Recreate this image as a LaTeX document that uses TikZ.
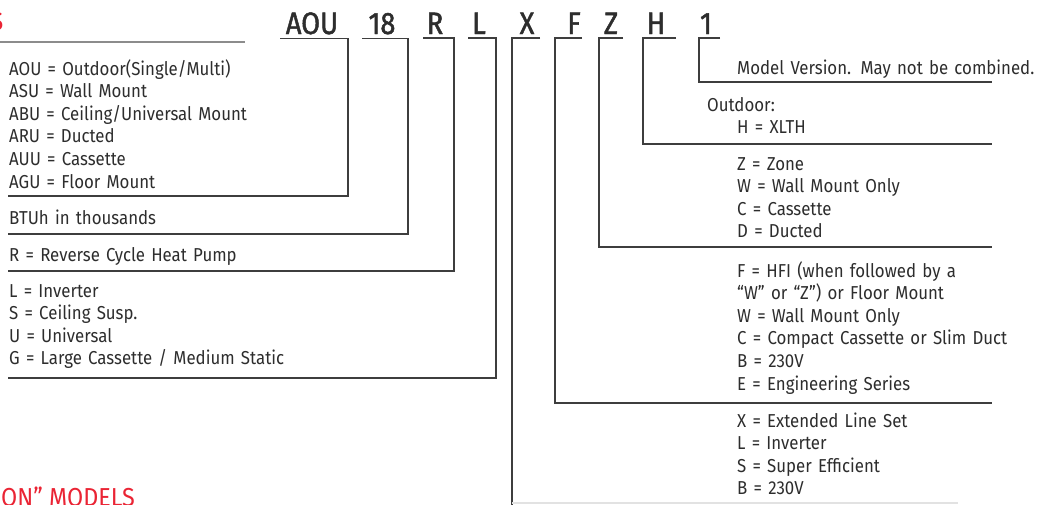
\documentclass[tikz,border=0pt]{standalone}
\usepackage{fontspec}
\setmainfont[FakeStretch=0.9]{Fira Sans}
\newfontfamily\codefont[FakeStretch=0.88, FakeBold=1.5]{Fira Sans}
\definecolor{LineColor}{RGB}{62,62,62}
\definecolor{TextColor}{RGB}{45,45,45}
\definecolor{AccentColor}{RGB}{234,36,52}
\definecolor{RuleColor}{RGB}{140,140,140}
\definecolor{FaintColor}{RGB}{226,226,226}
\usetikzlibrary{calc, positioning}

\begin{document}
\begin{tikzpicture}[x=1pt, y=-1pt,
    code/.style={font=\codefont\fontsize{31}{31}\selectfont, text=TextColor, anchor=base, inner xsep=0pt, inner ysep=4pt},
    desc/.style={font=\fontsize{18.7}{22.6}\selectfont, text=TextColor, anchor=base west, inner sep=0pt, text width=320pt, align=left},
    title/.style={font=\fontsize{26}{26}\selectfont, text=AccentColor, inner sep=0pt},
    bracket/.style={draw=LineColor, line width=1.5pt}]
  \useasboundingbox (0,0) rectangle (1039,504);
  \clip (0,0) rectangle (1039,504);

  % cropped headings
  \node[title, anchor=base east] (toptitle) at (3.5,30) {S};
  \node[title, anchor=base west] (bottitle) at (1,506) {ON” MODELS};
  \draw[RuleColor, line width=1.2pt] (0,42) -- (245,42);

  % model number
  \node[code] (aou) at (312,34) {AOU};
  \node[code] (btu) at (382,34) {18};
  \node[code] (r) at (435,34) {R};
  \node[code] (l) at (479,34) {L};
  \node[code] (x) at (527,34) {X};
  \node[code] (f) at (574,34) {F};
  \node[code] (z) at (611,34) {Z};
  \node[code] (h) at (656,34) {H};
  \node[code] (one) at (706,34) {1};

  % left descriptions
  \node[desc] (aoudesc) at (9,75) {AOU = Outdoor(Single/Multi)\\ASU = Wall Mount\\ABU = Ceiling/Universal Mount\\ARU = Ducted\\AUU = Cassette\\AGU = Floor Mount};
  \node[desc] (btudesc) at (9,224) {BTUh in thousands};
  \node[desc] (rdesc) at (9,261) {R = Reverse Cycle Heat Pump};
  \node[desc] (ldesc) at (9,297) {L = Inverter\\S = Ceiling Susp.\\U = Universal\\G = Large Cassette / Medium Static};

  % right descriptions
  \node[desc] (onedesc) at (737,74) {Model Version. May not be combined.};
  \node[desc] (hdesc) at (707,111) {Outdoor:\\\hspace*{30pt}H = XLTH};
  \node[desc] (zdesc) at (737,170) {Z = Zone\\W = Wall Mount Only\\C = Cassette\\D = Ducted};
  \node[desc] (fdesc) at (737,277) {F = HFI (when followed by a\\“W” or “Z”) or Floor Mount\\W = Wall Mount Only\\C = Compact Cassette or Slim Duct\\B = 230V\\E = Engineering Series};
  \node[desc] (xdesc) at (737,427) {X = Extended Line Set\\L = Inverter\\S = Super Efficient\\B = 230V};

  % bracket ends
  \coordinate (aouend) at (8,196);
  \coordinate (btuend) at (8,234);
  \coordinate (rend) at (8,271);
  \coordinate (lend) at (8,378);
  \coordinate (xend) at (512,512);
  \coordinate (fend) at (992,403);
  \coordinate (zend) at (992,247);
  \coordinate (hend) at (992,144);
  \coordinate (oneend) at (992,82);

  % brackets
  \draw[bracket] ([xshift=-32pt]aou.south) -- ([xshift=36pt]aou.south) |- (aouend);
  \draw[bracket] ([xshift=-20pt]btu.south) -- ([xshift=26pt]btu.south) |- (btuend);
  \draw[bracket] ([xshift=-12pt]r.south) -- ([xshift=19pt]r.south) |- (rend);
  \draw[bracket] ([xshift=-11pt]l.south) -- ([xshift=17pt]l.south) |- (lend);
  \draw[bracket] ([xshift=13pt]x.south) -| (xend);
  \draw[bracket] ([xshift=8pt]f.south) -- ([xshift=-19pt]f.south) |- (fend);
  \draw[bracket] ([xshift=12pt]z.south) -- ([xshift=-12pt]z.south) |- (zend);
  \draw[bracket] ([xshift=20pt]h.south) -- ([xshift=-13pt]h.south) |- (hend);
  \draw[bracket] ([xshift=14pt]one.south) -- ([xshift=-7pt]one.south) |- (oneend);
  \draw[FaintColor, line width=1.5pt] (xend |- 0,503) -- (958,503);
\end{tikzpicture}
\end{document}
